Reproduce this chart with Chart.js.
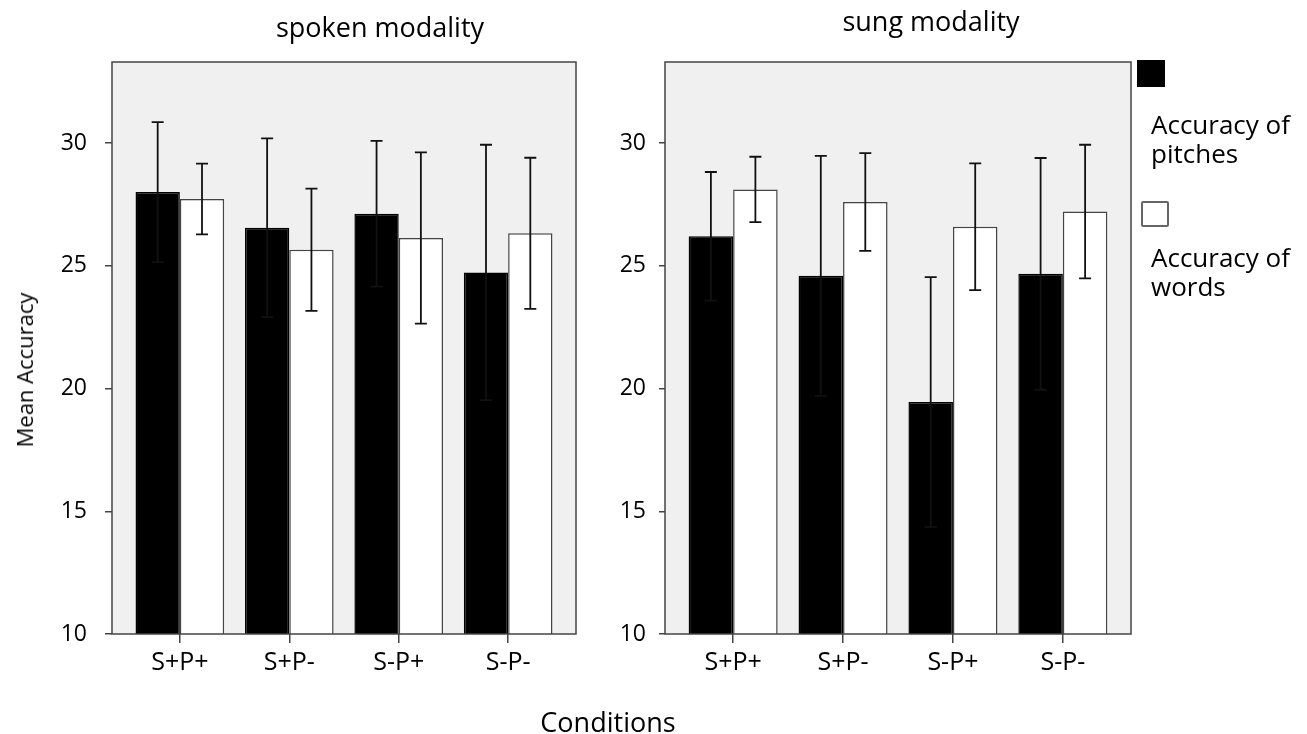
<!DOCTYPE html>
<html>
<head>
<meta charset="utf-8">
<title>Mean accuracy by condition</title>
<script src="https://cdn.jsdelivr.net/npm/chart.js@4.4.1/dist/chart.umd.min.js"></script>
<style>
  body { margin: 0; background: #fff; font-family: 'Open Sans', sans-serif; color: #000; }
  #wrap { position: relative; width: 1307px; height: 734px; overflow: hidden; background: #fff; }
  canvas { position: absolute; top: 0; }
  #spoken-chart { left: 0; }
  #sung-chart { left: 600px; }
  .txt { position: absolute; white-space: nowrap; line-height: 1; }
  .swatch { position: absolute; box-sizing: border-box; }
  .legend-text { position: absolute; width: 160px; font-size: 26px; line-height: 29px; }
</style>
</head>
<body>
<div id="wrap">
  <canvas id="spoken-chart" width="600" height="734"></canvas>
  <canvas id="sung-chart" width="540" height="734"></canvas>

  <div class="txt" id="spoken-title" style="left:380px; top:13px; font-size:27px; transform:translateX(-50%);"></div>
  <div class="txt" id="sung-title" style="left:931px; top:7px; font-size:27px; transform:translateX(-50%);"></div>
  <div class="txt" id="y-title" style="left:24px; top:370px; font-size:22px; transform:translate(-50%,-50%) rotate(-90deg);"></div>
  <div class="txt" id="x-title" style="left:608px; top:708px; font-size:27px; transform:translateX(-50%);"></div>
  <div id="legend"></div>
</div>

<script>
'use strict';
// data
let categories = ['S+P+', 'S+P-', 'S-P+', 'S-P-']
let seriesNames = ['Accuracy of pitches', 'Accuracy of words']
let panelTitles = ['spoken modality', 'sung modality']

let spokenPitches = [28.0, 26.55, 27.12, 24.73]
let spokenPitchesErr = [2.85, 3.64, 2.97, 5.2]
let spokenWords = [27.72, 25.65, 26.13, 26.32]
let spokenWordsErr = [1.44, 2.49, 3.49, 3.08]

let sungPitches = [26.2, 24.59, 19.45, 24.67]
let sungPitchesErr = [2.62, 4.89, 5.09, 4.72]
let sungWords = [28.11, 27.6, 26.59, 27.21]
let sungWordsErr = [1.33, 1.99, 2.58, 2.72]

let yTicks = [10, 15, 20, 25, 30]
let yMin = 10
let yMax = 33.3

Chart.defaults.font.family = "'Open Sans', sans-serif"
Chart.defaults.color = '#000'

// grey plot box, its frame and the error bars
const panelPlugin = {
  id: 'panel',
  beforeDraw(chart) {
    let a = chart.chartArea
    let ctx = chart.ctx
    ctx.save()
    ctx.fillStyle = '#f0f0f0'
    ctx.fillRect(a.left, a.top, a.width, a.height)
    ctx.restore()
  },
  afterDatasetsDraw(chart) {
    let a = chart.chartArea
    let ctx = chart.ctx
    let yScale = chart.scales.y
    ctx.save()
    ctx.strokeStyle = '#444'
    ctx.lineWidth = 1.5
    ctx.strokeRect(a.left, a.top, a.width, a.height)

    ctx.strokeStyle = '#111'
    ctx.lineWidth = 1.8
    chart.data.datasets.forEach(function (ds, i) {
      let meta = chart.getDatasetMeta(i)
      meta.data.forEach(function (bar, j) {
        let v = ds.data[j].y
        let e = ds.errors[j]
        let top = yScale.getPixelForValue(v + e)
        let bot = yScale.getPixelForValue(v - e)
        ctx.beginPath()
        ctx.moveTo(bar.x, top)
        ctx.lineTo(bar.x, bot)
        ctx.moveTo(bar.x - 6, top)
        ctx.lineTo(bar.x + 6, top)
        ctx.moveTo(bar.x - 6, bot)
        ctx.lineTo(bar.x + 6, bot)
        ctx.stroke()
      })
    })
    ctx.restore()
  }
}

function toPoints(values) {
  return values.map(function (v, i) { return { x: i, y: v } })
}

function makePanel(canvasId, pitches, pitchesErr, words, wordsErr, axisWidth, rightPad, yTickLen, yPad) {
  const ctx = document.getElementById(canvasId).getContext('2d')
  return new Chart(ctx, {
    type: 'bar',
    data: {
      datasets: [{
        label: seriesNames[0],
        data: toPoints(pitches),
        errors: pitchesErr,
        backgroundColor: '#000',
        borderColor: '#000',
        borderWidth: 1.5
      },
      {
        label: seriesNames[1],
        data: toPoints(words),
        errors: wordsErr,
        backgroundColor: '#fff',
        borderColor: '#444',
        borderWidth: 1.5
      }]
    },
    options: {
      responsive: false,
      animation: false,
      categoryPercentage: 0.81,
      barPercentage: 1.0,
      layout: { padding: { top: 62, right: rightPad, left: 0, bottom: 0 } },
      plugins: {
        legend: { display: false },
        tooltip: { enabled: false }
      },
      scales: {
        x: {
          type: 'linear',
          offset: false,
          min: -0.62,
          max: categories.length - 1 + 0.62,
          afterBuildTicks: function (scale) {
            scale.ticks = categories.map(function (c, i) { return { value: i } })
          },
          afterFit: function (scale) { scale.height = 100 },
          ticks: {
            font: { size: 25 },
            padding: 5,
            callback: function (value) { return categories[value] }
          },
          grid: { offset: false, drawOnChartArea: false, tickLength: 9, color: '#444', lineWidth: 1.5 },
          border: { display: false }
        },
        y: {
          min: yMin,
          max: yMax,
          afterBuildTicks: function (scale) {
            scale.ticks = yTicks.map(function (v) { return { value: v } })
          },
          afterFit: function (scale) { scale.width = axisWidth },
          ticks: { font: { size: 23 }, padding: yPad },
          grid: { drawOnChartArea: false, tickLength: yTickLen, color: '#444', lineWidth: 1.5 },
          border: { display: false }
        }
      }
    },
    plugins: [panelPlugin]
  })
}

makePanel('spoken-chart', spokenPitches, spokenPitchesErr, spokenWords, spokenWordsErr, 112, 24, 7, 18)
makePanel('sung-chart', sungPitches, sungPitchesErr, sungWords, sungWordsErr, 65, 9, 6, 13)

// titles
document.getElementById('spoken-title').textContent = panelTitles[0]
document.getElementById('sung-title').textContent = panelTitles[1]
document.getElementById('y-title').textContent = 'Mean Accuracy'
document.getElementById('x-title').textContent = 'Conditions'

// legend: swatch above a wrapped label
let legend = document.getElementById('legend')
let swatchSpots = [[1137, 60, 28, 27], [1141, 201, 28, 26]]
let textTops = [110, 243]
seriesNames.forEach(function (name, i) {
  let sw = document.createElement('div')
  sw.className = 'swatch'
  sw.style.left = swatchSpots[i][0] + 'px'
  sw.style.top = swatchSpots[i][1] + 'px'
  sw.style.width = swatchSpots[i][2] + 'px'
  sw.style.height = swatchSpots[i][3] + 'px'
  if (i === 0) {
    sw.style.background = '#000'
  } else {
    sw.style.background = '#fff'
    sw.style.border = '2px solid #666'
    sw.style.borderRadius = '2px'
  }
  legend.appendChild(sw)

  let t = document.createElement('div')
  t.className = 'legend-text'
  t.style.left = '1151px'
  t.style.top = textTops[i] + 'px'
  t.textContent = name
  legend.appendChild(t)
})
</script>
</body>
</html>
